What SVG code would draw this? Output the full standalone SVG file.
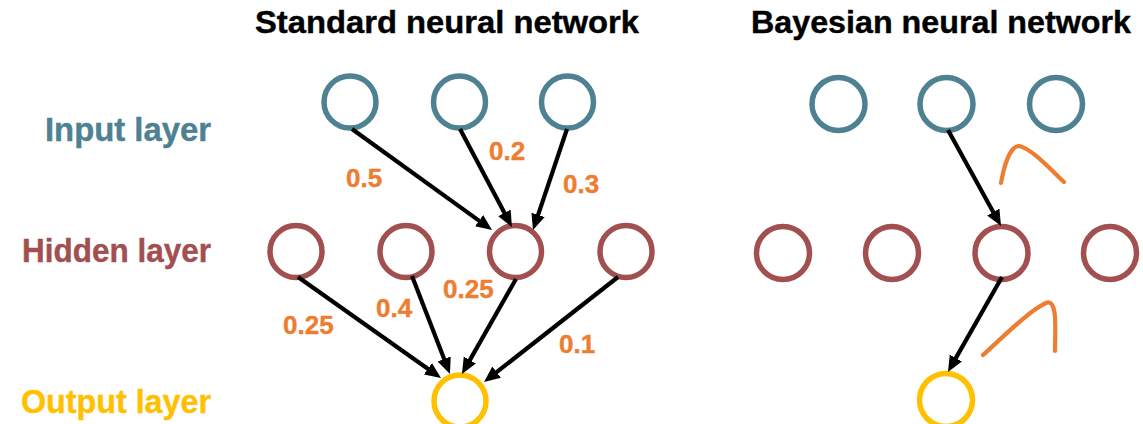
<svg xmlns="http://www.w3.org/2000/svg" width="1143" height="424" viewBox="0 0 1143 424">
  <style>
    .title { font-family: "Liberation Sans", Arial, sans-serif; font-weight: bold; font-size: 31px; fill: #000; stroke: #000; stroke-width: 0.4; }
    .layer { font-family: "Liberation Sans", Arial, sans-serif; font-weight: bold; font-size: 33px; stroke-width: 0.4; }
    .w { font-family: "Liberation Sans", Arial, sans-serif; font-weight: bold; font-size: 26px; fill: #ED7D31; stroke: #ED7D31; stroke-width: 0.4; }
    .in { fill: none; stroke: #4E8191; stroke-width: 5.5; }
    .hid { fill: none; stroke: #A24F4F; stroke-width: 5.5; }
    .out { fill: none; stroke: #FFC000; stroke-width: 5.5; }
    .edge { stroke: #000; stroke-width: 4.2; fill: none; marker-end: url(#head); }
    .dist { fill: none; stroke: #ED7D31; stroke-width: 4.2; stroke-linecap: round; stroke-linejoin: round; }
  </style>
  <defs>
    <marker id="head" markerUnits="userSpaceOnUse" markerWidth="18" markerHeight="15" refX="5" refY="7" orient="auto">
      <path d="M0,0 L16,7 L0,14 z" fill="#000"/>
    </marker>
  </defs>
  <rect width="1143" height="424" fill="#fff"/>

  <!-- headings -->
  <text class="title" x="255" y="33" textLength="384" lengthAdjust="spacingAndGlyphs">Standard neural network</text>
  <text class="title" x="751" y="33" textLength="380" lengthAdjust="spacingAndGlyphs">Bayesian neural network</text>

  <!-- layer names -->
  <text class="layer" x="45" y="141" fill="#4E8191" stroke="#4E8191" textLength="166" lengthAdjust="spacingAndGlyphs">Input layer</text>
  <text class="layer" x="22" y="262" fill="#A24F4F" stroke="#A24F4F" textLength="189" lengthAdjust="spacingAndGlyphs">Hidden layer</text>
  <text class="layer" x="21" y="413" fill="#FFC000" stroke="#FFC000" textLength="190" lengthAdjust="spacingAndGlyphs">Output layer</text>

  <!-- standard network: nodes -->
  <g id="std-in-1"><circle class="in" cx="350" cy="102" r="26"/></g>
  <g id="std-in-2"><circle class="in" cx="459.5" cy="102" r="26"/></g>
  <g id="std-in-3"><circle class="in" cx="567.5" cy="102" r="26"/></g>
  <g id="std-hid-1"><circle class="hid" cx="296" cy="251.5" r="26"/></g>
  <g id="std-hid-2"><circle class="hid" cx="406" cy="251.5" r="26"/></g>
  <g id="std-hid-3"><circle class="hid" cx="515.5" cy="251.5" r="26"/></g>
  <g id="std-hid-4"><circle class="hid" cx="626" cy="251.5" r="26"/></g>
  <g id="std-out"><circle class="out" cx="460" cy="401" r="26"/></g>

  <!-- bayesian network: nodes -->
  <g id="bnn-in-1"><circle class="in" cx="838.5" cy="104" r="26.5"/></g>
  <g id="bnn-in-2"><circle class="in" cx="946.5" cy="104" r="26.5"/></g>
  <g id="bnn-in-3"><circle class="in" cx="1056" cy="104" r="26.5"/></g>
  <g id="bnn-hid-1"><circle class="hid" cx="783" cy="253" r="26.5"/></g>
  <g id="bnn-hid-2"><circle class="hid" cx="892" cy="253" r="26.5"/></g>
  <g id="bnn-hid-3"><circle class="hid" cx="1001.5" cy="253" r="26.5"/></g>
  <g id="bnn-hid-4"><circle class="hid" cx="1110" cy="253" r="26.5"/></g>
  <g id="bnn-out"><circle class="out" cx="946" cy="400" r="26.5"/></g>

  <!-- connectors (line ends 11px short of the arrow tip) -->
  <g id="connectors">
    <line class="edge" x1="352" y1="129" x2="483.1" y2="223.6"/>
    <line class="edge" x1="460" y1="129" x2="506.8" y2="217.3"/>
    <line class="edge" x1="567" y1="129" x2="536.5" y2="219.6"/>
    <line class="edge" x1="298" y1="277" x2="432.0" y2="371.7"/>
    <line class="edge" x1="412" y1="276" x2="446.0" y2="363.7"/>
    <line class="edge" x1="516" y1="279" x2="467.4" y2="364.4"/>
    <line class="edge" x1="618" y1="277" x2="492.7" y2="375.2"/>
    <line class="edge" x1="948" y1="130" x2="995.7" y2="216.4"/>
    <line class="edge" x1="1002" y1="277" x2="953.4" y2="362.4"/>
  </g>

  <!-- weights -->
  <g id="weights">
    <text class="w" x="346" y="187">0.5</text>
    <text class="w" x="489" y="160">0.2</text>
    <text class="w" x="563" y="193">0.3</text>
    <text class="w" x="283" y="334">0.25</text>
    <text class="w" x="376" y="317">0.4</text>
    <text class="w" x="443" y="298">0.25</text>
    <text class="w" x="559" y="353">0.1</text>
  </g>

  <!-- weight distributions -->
  <g id="distributions">
    <path class="dist" d="M1001,183 C1004,166 1010,146 1019,146 C1031,148 1050,169 1064,182"/>
    <path class="dist" d="M983,355 C1003,337 1030,310 1046,303 C1058,298 1055,330 1055,351"/>
  </g>
</svg>
